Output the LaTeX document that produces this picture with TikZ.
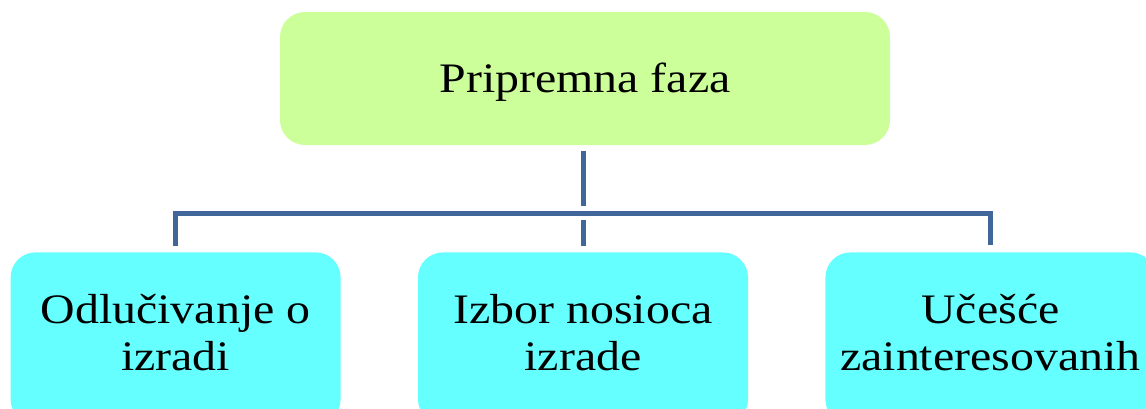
\documentclass[tikz,border=0pt]{standalone}
\usepackage{fontspec}
\setmainfont{Liberation Serif}[FakeStretch=1.14]
\usepackage{tikz}
\usetikzlibrary{
  positioning,
}
\definecolor{fazagreen}{RGB}{204, 255, 153}
\definecolor{korakcyan}{RGB}{102, 255, 255}
\definecolor{vezablue}{RGB}{65, 102, 154}
\tikzstyle{faza} = [
  rectangle,
  rounded corners=25pt,
  minimum width=610pt,
  minimum height=133pt,
  fill=fazagreen,
  text height=32pt,
  text depth=5pt,
  font=\fontsize{42}{47.5}\selectfont,
]
\tikzstyle{korak} = [
  rectangle,
  rounded corners=25pt,
  minimum width=330pt,
  minimum height=172pt,
  fill=korakcyan,
  align=center,
  text height=77.5pt,
  text depth=12.5pt,
  font=\fontsize{42}{47.5}\selectfont,
]
\tikzstyle{veza} = [
  line width=5pt,
  vezablue,
  line join=miter,
  shorten >=7pt,
  shorten <=6pt,
]

\begin{document}
\begin{tikzpicture}[node distance=0pt and 77pt]
        \clip (0pt,0pt) rectangle (1146pt,408pt);
        \node[faza]    (p0) at (585pt,329.5pt)   {Pripremna faza};
        \node[korak]   (b1) [below=107pt of p0,xshift=-2pt]  {Izbor nosioca\\izrade};
        \node[korak]   (b0) [left=of b1]         {Odlučivanje o\\izradi};
        \node[korak]   (b2) [right=of b1]        {Učešće\\zainteresovanih};

        \draw[veza] (p0.south) ++(-2pt,0pt) -- ++(0pt,-68pt);
        \draw[veza] (b0.north) -- ++(0pt,39pt) -| (b2.north);
        \draw[veza] (b1.north) -- ++(0pt,39pt);
    \end{tikzpicture}
\end{document}
